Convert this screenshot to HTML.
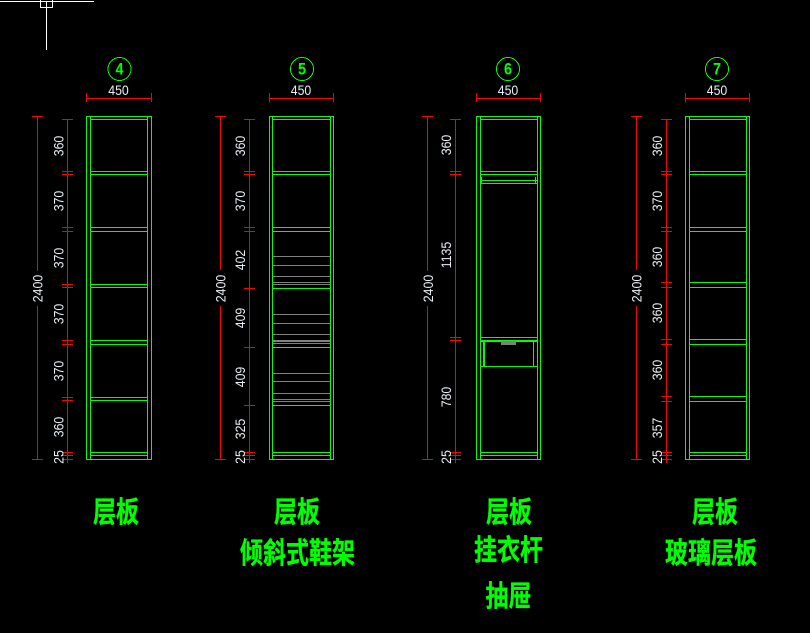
<!DOCTYPE html>
<html><head><meta charset="utf-8"><style>
html,body{margin:0;padding:0;background:#000;width:810px;height:633px;overflow:hidden}
svg{display:block}
.g,.r,.y,.w{fill:none;stroke-width:1;shape-rendering:crispEdges}
.g{stroke:#00ff00}.r{stroke:#ff0000}.y{stroke:#808080}.w{stroke:#fff}
.d{font:14px "Liberation Sans",sans-serif;fill:#e8eff6;text-anchor:middle;dominant-baseline:central}
.n{font:bold 17px "Liberation Sans",sans-serif;fill:#00ff00;text-anchor:middle;dominant-baseline:central}
.c{font:bold 24px "WenQuanYi Zen Hei","Noto Sans CJK SC",sans-serif;fill:#00ff00;stroke:#00ff00;stroke-width:.3;text-anchor:middle}
.ci{fill:none;stroke:#00ff00;stroke-width:1;shape-rendering:crispEdges}
</style></head><body>
<svg width="810" height="633" viewBox="0 0 810 633" xmlns="http://www.w3.org/2000/svg">
<rect width="810" height="633" fill="#000"/>
<path class="w" d="M0 1.5H94M46.5 1.5V50M40.5 1.5V7.5H52.5V1.5M40.5 1.5V-1M52.5 1.5V-1"/>

<!-- column 4 -->
<circle class="ci" cx="119.5" cy="69" r="11.5"/>
<text class="n" transform="translate(119.5 69.5) scale(.85 1)">4</text>
<path class="r" d="M86.5 93V102M151.5 93V102M86 98.5H152"/>
<text class="d" transform="translate(118.5 90) scale(.88 1)">450</text>
<path class="g" d="M86.5 116V460M90.5 116V460M147.5 116V460M151.5 116V460M86 116.5H152M90 119.5H148M86 459.5H152"/>
<path class="g" d="M90 171.5H148M90 174.5H148M90 227.5H148M90 231.5H148M90 284.5H148M90 287.5H148M90 340.5H148M90 344.5H148M90 397.5H148M90 400.5H148M90 452.5H148M90 455.5H148"/>
<path class="r" d="M37.5 117V271M37.5 306V459M32 116.5H43M32 459.5H43M67.5 119V463M62 119.5H73M62 171.5H73M62 174.5H73M62 227.5H73M62 231.5H73M62 284.5H73M62 287.5H73M62 340.5H73M62 344.5H73M62 397.5H73M62 400.5H73M62 452.5H73M62 455.5H73M62 459.5H73"/>
<text class="d" transform="translate(37.5 288.5) rotate(-90) scale(.88 1)">2400</text>
<text class="d" transform="translate(58.5 146) rotate(-90) scale(.88 1)">360</text>
<text class="d" transform="translate(58.5 201) rotate(-90) scale(.88 1)">370</text>
<text class="d" transform="translate(58.5 258) rotate(-90) scale(.88 1)">370</text>
<text class="d" transform="translate(58.5 314) rotate(-90) scale(.88 1)">370</text>
<text class="d" transform="translate(58.5 371) rotate(-90) scale(.88 1)">370</text>
<text class="d" transform="translate(58.5 427) rotate(-90) scale(.88 1)">360</text>
<text class="d" transform="translate(58.5 457) rotate(-90) scale(.88 1)">25</text>

<!-- column 5 -->
<circle class="ci" cx="302" cy="69" r="11.5"/>
<text class="n" transform="translate(302 69.5) scale(.85 1)">5</text>
<path class="r" d="M269.5 93V102M333.5 93V102M269 98.5H334"/>
<text class="d" transform="translate(301 90) scale(.88 1)">450</text>
<path class="g" d="M269.5 116V460M272.5 116V460M330.5 116V460M333.5 116V460M269 116.5H334M272 119.5H331M269 459.5H334"/>
<path class="g" d="M272 171.5H331M272 174.5H331M272 227.5H331M272 231.5H331M272 288.5H331M272 347.5H331M272 405.5H331M272 452.5H331M272 455.5H331"/>
<path class="y" d="M273 256.5H330M273 265.5H330M273 276.5H330M273 282.5H330M273 284.5H330M273 314.5H330M273 323.5H330M273 334.5H330M273 340.5H330M273 341.5H330M273 343.5H330M273 373.5H330M273 381.5H330M273 393.5H330M273 399.5H330M273 401.5H330"/>
<path class="r" d="M220.5 117V270M220.5 306V459M215 116.5H226M215 459.5H226M249.5 119V463M244 119.5H255M244 171.5H255M244 174.5H255M244 227.5H255M244 231.5H255M244 288.5H255M244 347.5H255M244 405.5H255M244 452.5H255M244 455.5H255M244 459.5H255"/>
<text class="d" transform="translate(220.5 288.5) rotate(-90) scale(.88 1)">2400</text>
<text class="d" transform="translate(240 146) rotate(-90) scale(.88 1)">360</text>
<text class="d" transform="translate(240 201) rotate(-90) scale(.88 1)">370</text>
<text class="d" transform="translate(240 260) rotate(-90) scale(.88 1)">402</text>
<text class="d" transform="translate(240 318) rotate(-90) scale(.88 1)">409</text>
<text class="d" transform="translate(240 377) rotate(-90) scale(.88 1)">409</text>
<text class="d" transform="translate(240 429) rotate(-90) scale(.88 1)">325</text>
<text class="d" transform="translate(240 457) rotate(-90) scale(.88 1)">25</text>

<!-- column 6 -->
<circle class="ci" cx="508" cy="69" r="11.5"/>
<text class="n" transform="translate(508 69.5) scale(.85 1)">6</text>
<path class="r" d="M476.5 93V102M540.5 93V102M476 98.5H541"/>
<text class="d" transform="translate(508 90) scale(.88 1)">450</text>
<path class="g" d="M476.5 116V460M480.5 116V460M537.5 116V460M540.5 116V460M476 116.5H541M480 119.5H538M476 459.5H541"/>
<path class="g" d="M480 171.5H538M480 174.5H538M481.5 177V183M535.5 177V183M481 180.5H537M481 183.5H537M480 337.5H538M480 340.5H538M480 341.5H538M483.5 341V367M484.5 341V367M533.5 341V367M480 366.5H538M480 452.5H538M480 455.5H538"/>
<rect x="501" y="341" width="15" height="4" fill="#808080"/>
<path class="r" d="M427.5 117V271M427.5 306V459M422 116.5H433M422 459.5H433M455.5 119V463M450 119.5H461M450 171.5H461M450 174.5H461M450 337.5H461M450 340.5H461M450 452.5H461M450 455.5H461M450 459.5H461"/>
<text class="d" transform="translate(428 288.5) rotate(-90) scale(.88 1)">2400</text>
<text class="d" transform="translate(446 145) rotate(-90) scale(.88 1)">360</text>
<text class="d" transform="translate(446 255) rotate(-90) scale(.88 1)">1135</text>
<text class="d" transform="translate(446 397) rotate(-90) scale(.88 1)">780</text>
<text class="d" transform="translate(446 457) rotate(-90) scale(.88 1)">25</text>

<!-- column 7 -->
<circle class="ci" cx="717" cy="69" r="11.5"/>
<text class="n" transform="translate(717 69.5) scale(.85 1)">7</text>
<path class="r" d="M685.5 93V102M749.5 93V102M685 98.5H750"/>
<text class="d" transform="translate(717 90) scale(.88 1)">450</text>
<path class="g" d="M685.5 116V460M689.5 116V460M746.5 116V460M749.5 116V460M685 116.5H750M689 119.5H747M685 459.5H750"/>
<path class="g" d="M689 171.5H747M689 174.5H747M689 227.5H747M689 231.5H747M689 282.5H747M689 287.5H747M689 339.5H747M689 344.5H747M689 396.5H747M689 401.5H747M689 452.5H747M689 455.5H747"/>
<path class="r" d="M636.5 117V270M636.5 306V459M631 116.5H642M631 459.5H642M666.5 119V463M661 119.5H672M661 171.5H672M661 174.5H672M661 227.5H672M661 231.5H672M661 282.5H672M661 287.5H672M661 339.5H672M661 344.5H672M661 396.5H672M661 401.5H672M661 452.5H672M661 455.5H672M661 459.5H672"/>
<text class="d" transform="translate(636.5 288.5) rotate(-90) scale(.88 1)">2400</text>
<text class="d" transform="translate(657 146) rotate(-90) scale(.88 1)">360</text>
<text class="d" transform="translate(657 201) rotate(-90) scale(.88 1)">370</text>
<text class="d" transform="translate(657 257) rotate(-90) scale(.88 1)">360</text>
<text class="d" transform="translate(657 313) rotate(-90) scale(.88 1)">360</text>
<text class="d" transform="translate(657 370) rotate(-90) scale(.88 1)">360</text>
<text class="d" transform="translate(657 428) rotate(-90) scale(.88 1)">357</text>
<text class="d" transform="translate(657 457) rotate(-90) scale(.88 1)">25</text>

<!-- captions -->
<text class="c" transform="translate(116 522) scale(.96 1.2)">层板</text>
<text class="c" transform="translate(297 522) scale(.96 1.2)">层板</text>
<text class="c" transform="translate(297.5 563) scale(.96 1.2)">倾斜式鞋架</text>
<text class="c" transform="translate(509 522) scale(.96 1.2)">层板</text>
<text class="c" transform="translate(508.5 560) scale(.96 1.2)">挂衣杆</text>
<text class="c" transform="translate(508.5 606) scale(.96 1.2)">抽屉</text>
<text class="c" transform="translate(715 522) scale(.96 1.2)">层板</text>
<text class="c" transform="translate(711 563) scale(.96 1.2)">玻璃层板</text>
</svg>
</body></html>
